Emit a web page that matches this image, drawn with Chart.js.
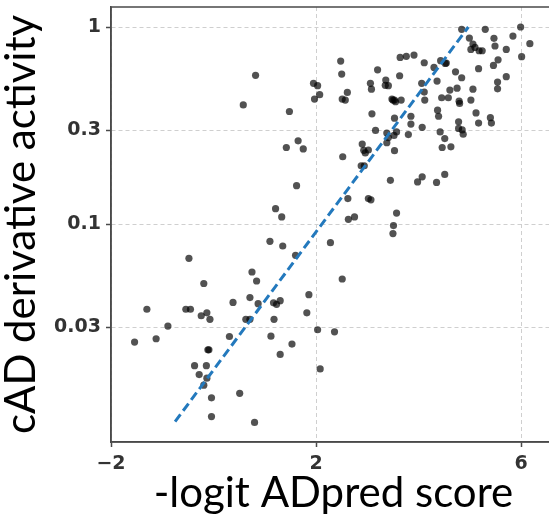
<!DOCTYPE html>
<html>
<head>
<meta charset="utf-8">
<script src="https://cdn.jsdelivr.net/npm/chart.js@4"></script>
<style>
  html, body { margin: 0; padding: 0; background: #fff; overflow: hidden; }
  #wrap { width: 560px; height: 519px; }
</style>
</head>
<body>
<div id="wrap"><canvas id="c" width="560" height="519"></canvas></div>
<script>
"use strict";
// -logit ADpred score (x) vs cAD derivative activity (y)
const xs = [
  -1.54, -1.30, -1.12, -0.89, -0.48, -0.54, -0.45, -0.19, -0.24, -0.13,
  -0.07, -0.37, -0.14, -0.28, -0.11, -0.09, -0.13, -0.19, -0.04, -0.04,
  0.31, 0.38, 0.51, 0.63, 0.71, 0.71, 0.75, 0.84, 0.87, 0.80,
  0.82, 0.58, 1.10, 1.35, 1.21, 1.33, 1.17, 1.23, 1.30, 1.18,
  1.12, 1.30, 1.53, 1.60, 1.62, 1.42, 1.65, 1.75, 1.48, 1.86,
  1.82, 1.95, 2.03, 1.97, 2.07, 2.03, 2.08, 2.28, 2.36, 2.51,
  2.48, 2.50, 2.52, 2.51, 2.57, 2.61, 2.62, 2.63, 2.75, 2.90,
  2.93, 2.96, 3.02, 2.88, 2.94, 3.02, 3.07, 3.09, 3.16, 3.06,
  3.08, 3.20, 3.36, 3.35, 3.41, 3.63, 3.48, 3.53, 3.55, 3.66,
  3.53, 3.38, 3.41, 3.38, 3.52, 3.57, 3.53, 3.45, 3.57, 3.51,
  3.50, 3.64, 3.76, 3.91, 4.11, 4.30, 4.43, 4.54, 4.06, 4.11,
  4.12, 3.85, 3.85, 4.07, 3.80, 3.98, 4.07, 4.35, 4.51, 4.36,
  4.45, 4.37, 4.39, 4.42, 4.51, 4.46, 4.63, 4.58, 4.61, 4.75,
  4.72, 4.84, 4.79, 4.80, 4.78, 4.78, 4.85, 4.87, 4.84, 4.99,
  5.06, 5.02, 5.10, 5.18, 5.24, 5.30, 5.47, 5.49, 5.17, 5.06,
  5.02, 5.12, 5.17, 5.40, 5.42, 5.55, 5.46, 5.54, 5.54, 5.71,
  5.71, 5.84, 5.99, 6.01, 6.17, 4.52, 3.50
];
const ys = [
  0.0253, 0.0371, 0.0263, 0.0305, 0.0672, 0.0371, 0.0371, 0.0501, 0.0344, 0.0356,
  0.033, 0.0192, 0.0192, 0.0173, 0.0231, 0.0231, 0.0166, 0.0153, 0.0132, 0.0106,
  0.0270, 0.0402, 0.0139, 0.033, 0.033, 0.0425, 0.0573, 0.0516, 0.0396, 0.0099,
  0.569, 0.403, 0.082, 0.0776, 0.120, 0.109, 0.040, 0.0393, 0.041, 0.033,
  0.0271, 0.0219, 0.0247, 0.0696, 0.157, 0.245, 0.265, 0.241, 0.373, 0.044,
  0.0356, 0.518, 0.504, 0.431, 0.454, 0.0292, 0.0185, 0.0807, 0.0285, 0.0528,
  0.672, 0.577, 0.220, 0.431, 0.426, 0.466, 0.135, 0.106, 0.109, 0.255,
  0.237, 0.230, 0.238, 0.198, 0.198, 0.135, 0.133, 0.363, 0.299, 0.518,
  0.484, 0.607, 0.538, 0.506, 0.504, 0.566, 0.431, 0.426, 0.418, 0.426,
  0.345, 0.290, 0.275, 0.259, 0.282, 0.294, 0.236, 0.167, 0.114, 0.0985,
  0.0897, 0.701, 0.710, 0.721, 0.659, 0.624, 0.675, 0.657, 0.518, 0.468,
  0.426, 0.353, 0.322, 0.310, 0.285, 0.164, 0.174, 0.163, 0.179, 0.532,
  0.438, 0.379, 0.353, 0.294, 0.272, 0.245, 0.247, 0.438, 0.479, 0.490,
  0.593, 0.553, 0.421, 0.410, 0.331, 0.306, 0.301, 0.286, 0.973, 0.879,
  0.820, 0.770, 0.788, 0.758, 0.758, 0.973, 0.876, 0.801, 0.615, 0.484,
  0.426, 0.367, 0.326, 0.347, 0.326, 0.682, 0.639, 0.526, 0.486, 0.560,
  0.770, 0.900, 1.0, 0.707, 0.823, 0.654, 0.426
];
// dashed fit line end points
const fitX = [-0.75, 4.97];
const fitY = [0.01, 1];
const xTicks = [-2, 2, 6];
const yTicks = [0.03, 0.1, 0.3, 1];

const tickFont = { family: "DejaVu Sans", size: 19, weight: "bold" };
const tickColor = "#333";
const axisColor = "#4a4a4a";
const gridColor = "#cfcfcf";

// frame around the plot area (top/right sides; Chart.js only draws the axis borders)
const frame = {
  id: "frame",
  afterDatasetsDraw(chart) {
    const { ctx, chartArea: a } = chart;
    ctx.save();
    ctx.strokeStyle = axisColor;
    ctx.lineWidth = 1.5;
    ctx.strokeRect(a.left, a.top, a.right - a.left, a.bottom - a.top);
    ctx.restore();
  }
};

new Chart(document.getElementById("c"), {
  type: "scatter",
  data: {
    datasets: [
      {
        data: xs.map((x, i) => ({ x, y: ys[i] })),
        backgroundColor: "rgba(0,0,0,0.68)",
        borderWidth: 0,
        pointRadius: 3.6,
        order: 1
      },
      {
        type: "line",
        data: fitX.map((x, i) => ({ x, y: fitY[i] })),
        borderColor: "#2379bd",
        borderWidth: 3,
        borderDash: [9, 4.5],
        pointRadius: 0,
        fill: false,
        order: 0
      }
    ]
  },
  options: {
    responsive: false,
    animation: false,
    layout: { padding: { top: 7, right: 4, left: 0, bottom: 0 } },
    plugins: { legend: { display: false }, tooltip: { enabled: false } },
    scales: {
      x: {
        type: "linear",
        min: -2, max: 6.68,
        afterBuildTicks: s => { s.ticks = xTicks.map(v => ({ value: v })); },
        afterFit: s => { s.height = 77; s.paddingLeft = 0; s.paddingRight = 0; },
        ticks: {
          font: tickFont, color: tickColor, padding: 6, maxRotation: 0,
          callback: v => v < 0 ? "\u2212" + Math.abs(v) : String(v)
        },
        grid: { color: gridColor, lineWidth: 1, tickLength: 5, tickColor: axisColor, tickWidth: 1.5 },
        border: { color: axisColor, width: 1.5, dash: [4, 3] },
        title: {
          display: true, text: "-logit ADpred score", color: "#000",
          font: { family: "Lato", size: 42, lineHeight: 1 }, padding: { top: 0, bottom: 5 }
        }
      },
      y: {
        type: "logarithmic",
        min: 0.00788, max: 1.263,
        afterBuildTicks: s => { s.ticks = yTicks.map(v => ({ value: v })); },
        afterFit: s => { s.width = 111; s.paddingTop = 0; s.paddingBottom = 0; },
        ticks: {
          font: tickFont, color: tickColor, padding: 5,
          callback: v => String(v)
        },
        grid: { color: gridColor, lineWidth: 1, tickLength: 5, tickColor: axisColor, tickWidth: 1.5 },
        border: { color: axisColor, width: 1.5, dash: [4, 3] },
        title: {
          display: true, text: "cAD derivative activity", color: "#000",
          font: { family: "Lato", size: 42, lineHeight: 1 }, padding: { top: 0, bottom: 0 }
        }
      }
    }
  },
  plugins: [frame]
});
</script>
</body>
</html>
